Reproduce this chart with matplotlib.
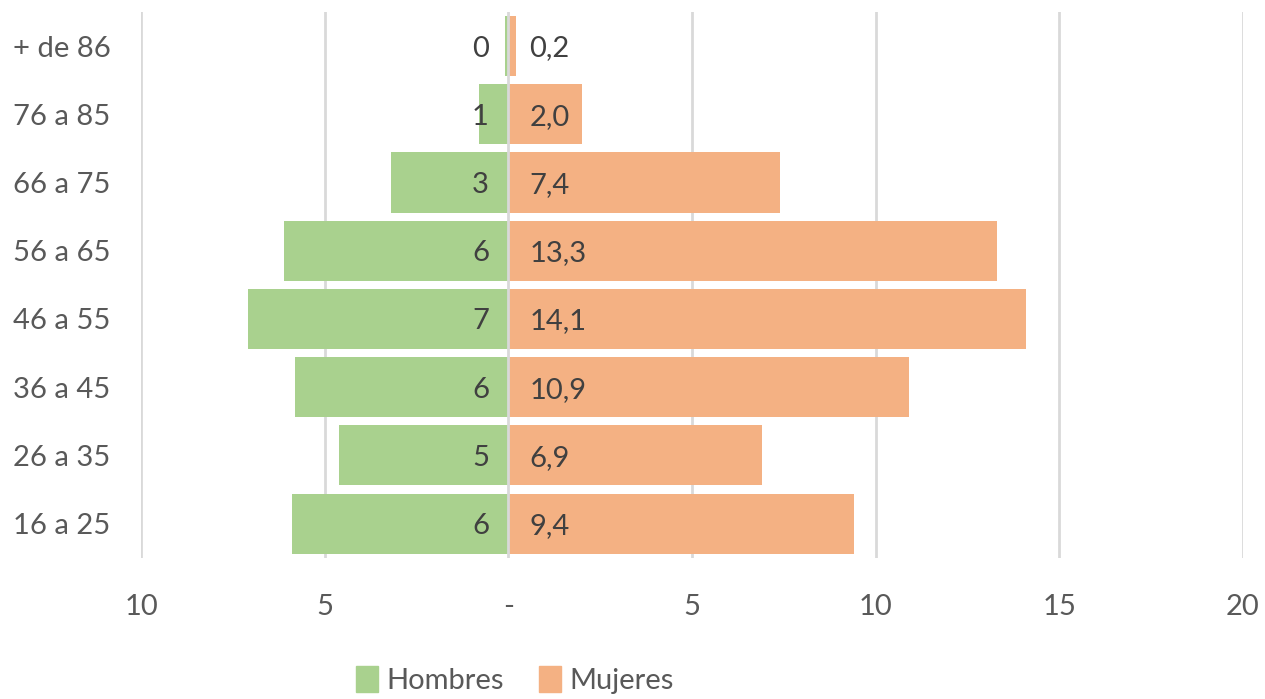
import matplotlib.pyplot as plt
from matplotlib.patches import Patch

# age groups, bottom to top
groups = ["16 a 25", "26 a 35", "36 a 45", "46 a 55", "56 a 65", "66 a 75", "76 a 85", "+ de 86"]
hombres = [5.9, 4.6, 5.8, 7.1, 6.1, 3.2, 0.8, 0.1]
mujeres = [9.4, 6.9, 10.9, 14.1, 13.3, 7.4, 2.0, 0.2]
hombres_labels = ["6", "5", "6", "7", "6", "3", "1", "0"]
mujeres_labels = ["9,4", "6,9", "10,9", "14,1", "13,3", "7,4", "2,0", "0,2"]
x_ticks = [-10, -5, 0, 5, 10, 15, 20]
x_tick_labels = ["10", "5", "-", "5", "10", "15", "20"]

GREEN = "#A9D18E"
ORANGE = "#F4B183"
GRID = "#D9D9D9"
TEXT = "#595959"
LABEL = "#404040"

plt.rcParams["font.family"] = ["Lato", "DejaVu Sans"]


def main() -> None:
    fig = plt.figure(figsize=(12.65, 6.99), dpi=100)
    ax = fig.add_axes([0.1115, 0.202, 0.8711, 0.781])

    y = list(range(len(groups)))
    ax.barh(y, [-v for v in hombres], height=0.88, color=GREEN, zorder=2)
    ax.barh(y, mujeres, height=0.88, color=ORANGE, zorder=2)

    for xt in x_ticks:
        ax.axvline(xt, color=GRID, linewidth=2, zorder=3 if xt == 0 else 1)

    for yi, lab in zip(y, hombres_labels):
        ax.annotate(lab, (0, yi), xytext=(-14, 0), textcoords="offset points",
                    ha="right", va="center_baseline", fontsize=21, color=LABEL, zorder=4)
    for yi, lab in zip(y, mujeres_labels):
        ax.annotate(lab, (0, yi), xytext=(15, 0), textcoords="offset points",
                    ha="left", va="center_baseline", fontsize=21, color=LABEL, zorder=4)

    ax.set_xlim(-10, 20)
    ax.set_ylim(-0.5, len(groups) - 0.5)
    ax.set_xticks(x_ticks)
    ax.set_xticklabels(x_tick_labels)
    ax.set_yticks(y)
    ax.set_yticklabels(groups)
    ax.tick_params(axis="x", length=0, pad=26, labelsize=21, labelcolor=TEXT)
    ax.tick_params(axis="y", length=0, pad=22, labelsize=21, labelcolor=TEXT)
    for spine in ax.spines.values():
        spine.set_visible(False)

    handles = [Patch(color=GREEN, label="Hombres"), Patch(color=ORANGE, label="Mujeres")]
    fig.legend(handles=handles, loc="center", bbox_to_anchor=(0.407, 0.027), ncol=2,
               frameon=False, fontsize=21, labelcolor=TEXT, handlelength=0.75,
               handleheight=1.0, handletextpad=0.3, columnspacing=1.2)

    fig.savefig("out.png", dpi=100)


if __name__ == "__main__":
    main()
